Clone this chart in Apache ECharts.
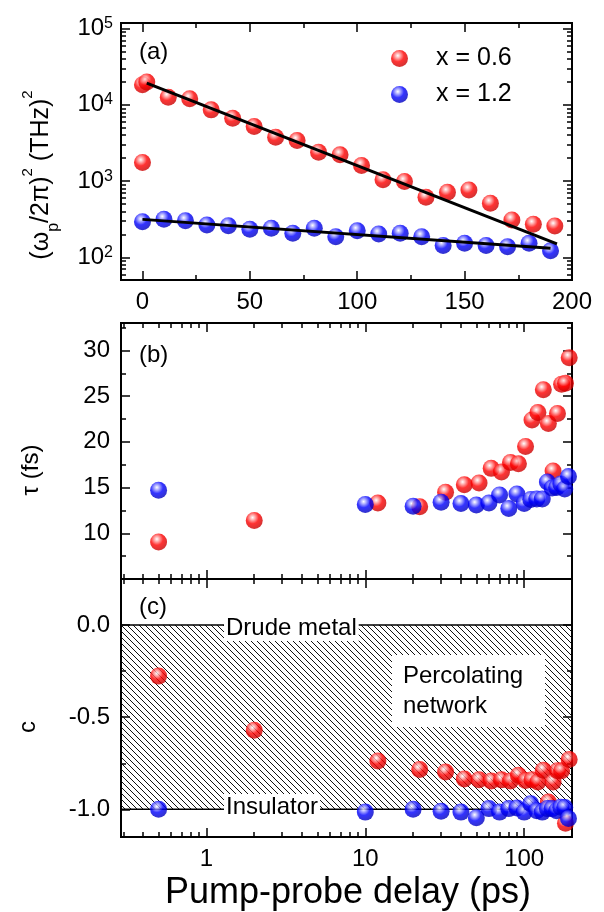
<!DOCTYPE html>
<html>
<head>
<meta charset="utf-8">
<script src="https://cdn.jsdelivr.net/npm/echarts@6/dist/echarts.min.js"></script>
<style>html,body{margin:0;padding:0;background:#fff;}#chart{width:604px;height:912px;}</style>
</head>
<body>
<div id="chart"></div>
<script>
// ---------------- data ----------------
// panel (a): plasma frequency squared vs delay (linear delay axis, ps)
const aRedDelay  = [0, 0, 2, 12, 22, 32, 42, 52, 62, 72, 82, 92, 102, 112, 122, 132, 142, 152, 162, 172, 182, 192];
const aRedVal    = [1750, 18400, 20000, 12600, 12000, 8600, 6680, 5190, 3770, 3400, 2390, 2210, 1600, 1040, 986, 615, 715, 765, 513, 310, 272, 258];
const aBlueDelay = [0, 10, 20, 30, 40, 50, 60, 70, 80, 90, 100, 110, 120, 130, 140, 150, 160, 170, 180, 190];
const aBlueVal   = [294, 316, 303, 266, 260, 234, 241, 207, 241, 187, 224, 203, 207, 187, 143, 153, 143, 138, 153, 122];
// exponential fits (straight on log scale), endpoints
const fitRedDelay  = [2, 193];
const fitRedVal    = [19300, 150];
const fitBlueDelay = [0, 190];
const fitBlueVal   = [315, 132];
// panels (b) and (c): log delay axis
const bcRedDelay  = [0.5, 2, 12, 22, 32, 42, 52, 62, 72, 82, 92, 102, 112, 122, 132, 142, 152, 162, 172, 182, 192];
const bRedTau     = [9.05, 11.4, 13.3, 12.9, 14.5, 15.3, 15.5, 17.1, 16.7, 17.75, 17.6, 19.5, 22.4, 23.2, 25.7, 22.0, 16.8, 23.1, 26.3, 26.4, 29.2];
const cRedC       = [-0.277, -0.571, -0.737, -0.784, -0.797, -0.835, -0.839, -0.846, -0.84, -0.846, -0.815, -0.843, -0.839, -0.851, -0.788, -0.96, -0.851, -0.79, -0.79, -1.076, -0.73];
const bcBlueDelay = [0.5, 10, 20, 30, 40, 50, 60, 70, 80, 90, 100, 110, 120, 130, 140, 150, 160, 170, 180, 190];
const bBlueTau    = [14.7, 13.15, 12.95, 13.4, 13.25, 13.1, 13.3, 14.2, 12.7, 14.3, 13.25, 13.7, 13.75, 13.75, 15.6, 14.95, 15.0, 15.4, 14.85, 16.2];
const cBlueC      = [-1.0, -1.015, -1.0, -1.01, -1.015, -1.045, -0.996, -1.015, -0.996, -0.993, -1.015, -0.969, -1.007, -1.015, -0.996, -0.996, -1.007, -0.989, -0.99, -1.05];
// region bounds for panel (c)
const metalC = 0.0;
const insulatorC = -1.0;
// tick labels / tick positions
const aXLabels   = [0, 50, 100, 150, 200];
const aXMinor    = [25, 75, 125, 175];
const aYLabels   = [100, 1000, 10000, 100000];
const aYMinor    = [60, 70, 80, 90, 200, 300, 400, 500, 600, 700, 800, 900, 2000, 3000, 4000, 5000, 6000, 7000, 8000, 9000, 20000, 30000, 40000, 50000, 60000, 70000, 80000, 90000];
const logXLabels = [1, 10, 100];
const logXMinor  = [0.3, 0.4, 0.5, 0.6, 0.7, 0.8, 0.9, 2, 3, 4, 5, 6, 7, 8, 9, 20, 30, 40, 50, 60, 70, 80, 90, 200];
const bYLabels   = [10, 15, 20, 25, 30];
const bYMinor    = [7.5, 12.5, 17.5, 22.5, 27.5, 32.5];
const cYLabels   = [-1, -0.5, 0];
const cYMinor    = [-0.75, -0.25];

// ---------------- chart ----------------
const FONT = "'Liberation Sans', Arial, Helvetica, sans-serif";
const pairs = (xs, ys) => xs.map((x, i) => [x, ys[i]]);
const RED = 'x = 0.6', BLUE = 'x = 1.2';

function sphere(light, base, dark) {
  return {type: 'radial', x: 0.4, y: 0.33, r: 0.72,
    colorStops: [{offset: 0, color: '#ffffff'}, {offset: 0.2, color: light},
                 {offset: 0.5, color: base}, {offset: 1, color: dark}]};
}
const redFill = sphere('#ff9a9a', '#ff0000', '#c00000');
const blueFill = sphere('#9a9aff', '#0000ff', '#0000b4');

function mkAxis(grid, pos, type, min, max, ticks, len, labels, fmt, margin, rich) {
  const a = {
    type: type, gridIndex: grid, position: pos, offset: 0, min: min, max: max,
    axisLine: {show: false, onZero: false}, splitLine: {show: false}, minorTick: {show: false},
    axisTick: {show: true, inside: true, length: len, customValues: ticks,
               lineStyle: {color: '#000', width: 1.5}},
    axisLabel: {show: false}
  };
  if (type === 'log') a.logBase = 10;
  if (labels) {
    a.axisLabel = {show: true, customValues: labels, formatter: fmt, color: '#000',
      fontSize: 24, fontFamily: FONT, margin: margin, hideOverlap: false,
      showMinLabel: true, showMaxLabel: true};
    if (rich) a.axisLabel.rich = rich;
  }
  return a;
}

const A = {xmin: -10, xmax: 200, ymin: 50.5, ymax: 118500};
const LX = {min: 0.29, max: 200};
const B = {ymin: 5, ymax: 33};
const C = {ymin: -1.15, ymax: 0.25};

const supRich = {
  b: {fontSize: 24, fontFamily: FONT, color: '#000', lineHeight: 26},
  s: {fontSize: 16, fontFamily: FONT, color: '#000', lineHeight: 4, verticalAlign: 'top'}
};

// grids 0-2 hold the major axes (and the data); grids 3-5 are the same rectangles holding minor ticks
const xAxes = [
  mkAxis(0, 'bottom', 'value', A.xmin, A.xmax, aXLabels, 9, aXLabels, v => String(v), 10),
  mkAxis(0, 'top', 'value', A.xmin, A.xmax, aXLabels, 9),
  mkAxis(1, 'bottom', 'log', LX.min, LX.max, logXLabels, 9),
  mkAxis(1, 'top', 'log', LX.min, LX.max, logXLabels, 9),
  mkAxis(2, 'bottom', 'log', LX.min, LX.max, logXLabels, 9, logXLabels, v => String(Math.round(v)), 10),
  mkAxis(2, 'top', 'log', LX.min, LX.max, logXLabels, 9),
  mkAxis(3, 'bottom', 'value', A.xmin, A.xmax, aXMinor, 5),
  mkAxis(3, 'top', 'value', A.xmin, A.xmax, aXMinor, 5),
  mkAxis(4, 'bottom', 'log', LX.min, LX.max, logXMinor, 5),
  mkAxis(4, 'top', 'log', LX.min, LX.max, logXMinor, 5),
  mkAxis(5, 'bottom', 'log', LX.min, LX.max, logXMinor, 5),
  mkAxis(5, 'top', 'log', LX.min, LX.max, logXMinor, 5)
];
const yAxes = [
  mkAxis(0, 'left', 'log', A.ymin, A.ymax, aYLabels, 9, aYLabels,
         v => '{b|10}{s|' + Math.round(Math.log10(v)) + '}', 8, supRich),
  mkAxis(0, 'right', 'log', A.ymin, A.ymax, aYLabels, 9),
  mkAxis(1, 'left', 'value', B.ymin, B.ymax, bYLabels, 9, bYLabels, v => String(v), 11),
  mkAxis(1, 'right', 'value', B.ymin, B.ymax, bYLabels, 9),
  mkAxis(2, 'left', 'value', C.ymin, C.ymax, cYLabels, 9, cYLabels, v => (Math.abs(v) < 1e-9 ? 0 : v).toFixed(1), 11),
  mkAxis(2, 'right', 'value', C.ymin, C.ymax, cYLabels, 9),
  mkAxis(3, 'left', 'log', A.ymin, A.ymax, aYMinor, 5),
  mkAxis(3, 'right', 'log', A.ymin, A.ymax, aYMinor, 5),
  mkAxis(4, 'left', 'value', B.ymin, B.ymax, bYMinor, 5),
  mkAxis(4, 'right', 'value', B.ymin, B.ymax, bYMinor, 5),
  mkAxis(5, 'left', 'value', C.ymin, C.ymax, cYMinor, 5),
  mkAxis(5, 'right', 'value', C.ymin, C.ymax, cYMinor, 5)
];

const rects = [{top: 23, height: 257}, {top: 323, height: 256}, {top: 579, height: 258}];
const grids = [];
rects.forEach(r => grids.push(Object.assign({left: 121, width: 451, show: true, borderColor: '#000', borderWidth: 2, backgroundColor: 'transparent'}, r)));
rects.forEach(r => grids.push(Object.assign({left: 121, width: 451, show: false}, r)));

// hatch pattern for the region between Drude metal and insulator
const pc = document.createElement('canvas');
pc.width = 6; pc.height = 6;
const pctx = pc.getContext('2d');
pctx.strokeStyle = '#111';
pctx.lineWidth = 1;
pctx.beginPath();
pctx.moveTo(-1, -1); pctx.lineTo(7, 7);
pctx.moveTo(-7, -1); pctx.lineTo(1, 7);
pctx.moveTo(5, -1); pctx.lineTo(13, 7);
pctx.stroke();

function scatter(name, xi, yi, data, fill, extra) {
  return Object.assign({
    name: name, type: 'scatter', xAxisIndex: xi, yAxisIndex: yi, data: data,
    symbol: 'circle', symbolSize: 17, clip: false, z: 3,
    itemStyle: {color: fill, borderWidth: 0},
    emphasis: {disabled: true}
  }, extra || {});
}
function fitLine(name, data) {
  return {name: name, type: 'line', xAxisIndex: 0, yAxisIndex: 0, data: data,
    symbol: 'none', z: 4, lineStyle: {color: '#000', width: 3}, emphasis: {disabled: true}};
}

const series = [
  scatter(RED, 0, 0, pairs(aRedDelay, aRedVal), redFill),
  scatter(BLUE, 0, 0, pairs(aBlueDelay, aBlueVal), blueFill),
  fitLine('fit 0.6', pairs(fitRedDelay, fitRedVal)),
  fitLine('fit 1.2', pairs(fitBlueDelay, fitBlueVal)),
  scatter(RED, 2, 2, pairs(bcRedDelay, bRedTau), redFill),
  scatter(BLUE, 2, 2, pairs(bcBlueDelay, bBlueTau), blueFill),
  scatter(RED, 4, 4, pairs(bcRedDelay, cRedC), redFill, {
    markArea: {
      silent: true, z: 1,
      itemStyle: {color: {image: pc, repeat: 'repeat'}, borderColor: '#000', borderWidth: 1.5},
      label: {show: false},
      data: [[{xAxis: LX.min, yAxis: metalC}, {xAxis: LX.max, yAxis: insulatorC}]]
    }
  }),
  scatter(BLUE, 4, 4, pairs(bcBlueDelay, cBlueC), blueFill)
];

const tStyle = (extra) => Object.assign({fill: '#000', fontFamily: FONT, fontSize: 24}, extra);

const graphics = [
  {type: 'text', x: 139, y: 52, z: 100, style: tStyle({text: '(a)', align: 'left', verticalAlign: 'middle'})},
  {type: 'text', x: 139, y: 355, z: 100, style: tStyle({text: '(b)', align: 'left', verticalAlign: 'middle'})},
  {type: 'text', x: 139, y: 607, z: 100, style: tStyle({text: '(c)', align: 'left', verticalAlign: 'middle'})},
  // y titles
  {type: 'text', x: 41, y: 175, rotation: Math.PI / 2, z: 100, style: tStyle({
    text: '{t|(ω}{sub|p}{t|/2π)}{sup|2}{t| (THz)}{sup|2}', align: 'center', verticalAlign: 'middle',
    rich: {
      t: {fontSize: 25, fontFamily: FONT, fill: '#000', lineHeight: 42},
      sub: {fontSize: 16, fontFamily: FONT, fill: '#000', lineHeight: 36, verticalAlign: 'bottom'},
      sup: {fontSize: 15, fontFamily: FONT, fill: '#000', lineHeight: 2, verticalAlign: 'top'}
    }})},
  {type: 'text', x: 31, y: 470, rotation: Math.PI / 2, z: 100, style: tStyle({text: 'τ (fs)', align: 'center', verticalAlign: 'middle'})},
  {type: 'text', x: 28, y: 727, rotation: Math.PI / 2, z: 100, style: tStyle({text: 'c', align: 'center', verticalAlign: 'middle'})},
  // x title
  {type: 'text', x: 348, y: 893, z: 100, style: tStyle({text: 'Pump-probe delay (ps)', fontSize: 36, align: 'center', verticalAlign: 'middle'})},
  // region annotations in (c)
  {type: 'text', x: 224, y: 628, z: 100, style: tStyle({text: 'Drude metal', align: 'left', verticalAlign: 'middle', backgroundColor: '#fff', padding: [1, 2, 1, 2]})},
  {type: 'text', x: 224, y: 807, z: 100, style: tStyle({text: 'Insulator', align: 'left', verticalAlign: 'middle', backgroundColor: '#fff', padding: [1, 2, 1, 2]})},
  {type: 'rect', z: 99, shape: {x: 392, y: 655, width: 153, height: 72}, style: {fill: '#fff'}},
  {type: 'text', x: 403, y: 691, z: 100, style: tStyle({text: 'Percolating\nnetwork', align: 'left', verticalAlign: 'middle', lineHeight: 30})}
];

const chart = echarts.init(document.getElementById('chart'), null, {renderer: 'canvas'});
chart.setOption({
  animation: false,
  backgroundColor: '#fff',
  textStyle: {fontFamily: FONT},
  grid: grids,
  xAxis: xAxes,
  yAxis: yAxes,
  legend: {
    data: [RED, BLUE], orient: 'vertical', left: 386, top: 40,
    itemWidth: 17, itemHeight: 17, itemGap: 9, icon: 'circle', selectedMode: false,
    textStyle: {fontSize: 25, color: '#000', fontFamily: FONT, padding: [0, 0, 0, 23], lineHeight: 27}
  },
  series: series,
  graphic: graphics
});
</script>
</body>
</html>
